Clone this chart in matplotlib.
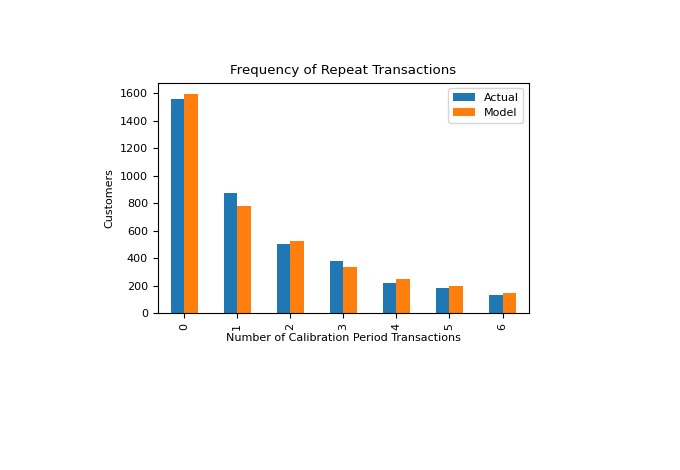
import numpy as np
import matplotlib
matplotlib.use('Agg')
import matplotlib.pyplot as plt
import pandas as pd

# number of repeat transactions in calibration period
counts = [0, 1, 2, 3, 4, 5, 6]
actual = [1555, 876, 504, 384, 224, 185, 132]
model = [1595, 779, 526, 340, 248, 203, 152]

df = pd.DataFrame({'Actual': actual, 'Model': model}, index=counts)

fig = plt.figure(figsize=(6.8, 4.7), dpi=100)
ax = fig.add_axes([0.232, 0.333, 0.546, 0.491])
df.plot(kind='bar', ax=ax, color=['#1f77b4', '#ff7f0e'])

ax.set_title('Frequency of Repeat Transactions', fontsize=9.6)
ax.set_xlabel('Number of Calibration Period Transactions', fontsize=8, labelpad=2)
ax.set_ylabel('Customers', fontsize=8)
ax.tick_params(labelsize=8)
ax.legend(fontsize=8, loc='upper right')

plt.savefig('out.png', dpi=100)
